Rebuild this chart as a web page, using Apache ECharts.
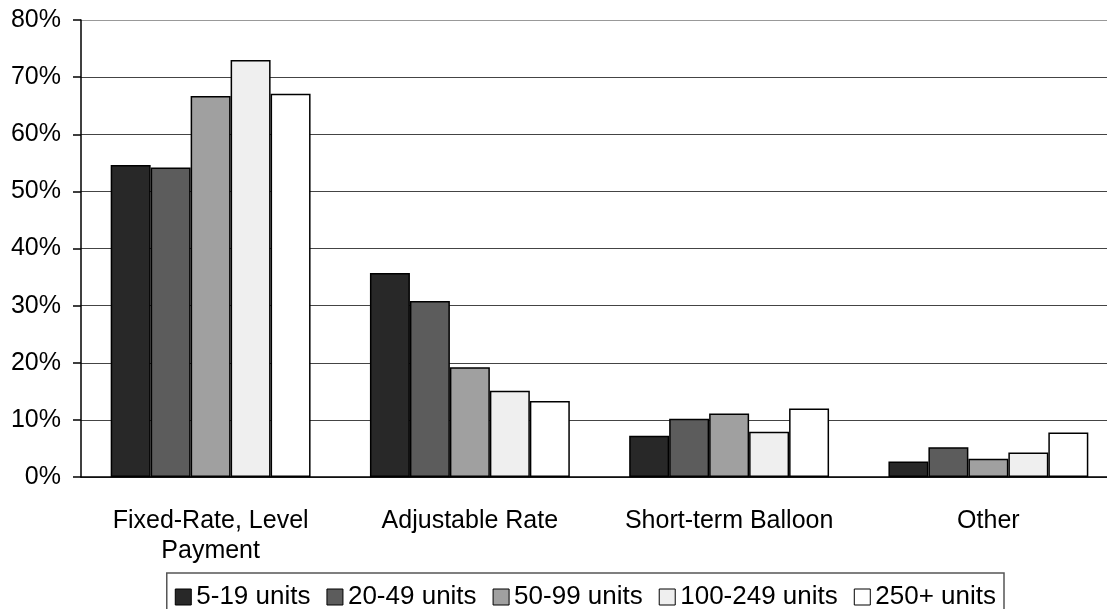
<!DOCTYPE html>
<html>
<head>
<meta charset="utf-8">
<script src="https://cdn.jsdelivr.net/npm/echarts@6/dist/echarts.min.js"></script>
<style>
html,body{margin:0;padding:0;background:#fff;}
#chart{width:1107px;height:609px;}
</style>
</head>
<body>
<div id="chart"></div>
<script>
const categories = ['Fixed-Rate, Level\nPayment', 'Adjustable Rate', 'Short-term Balloon', 'Other'];
const seriesNames = ['5-19 units', '20-49 units', '50-99 units', '100-249 units', '250+ units'];
const units5to19 = [54.6, 35.7, 7.2, 2.7];
const units20to49 = [54.2, 30.8, 10.2, 5.2];
const units50to99 = [66.7, 19.2, 11.1, 3.2];
const units100to249 = [73.0, 15.1, 7.9, 4.3];
const units250plus = [67.1, 13.3, 12.0, 7.8];
const yTicks = [0, 10, 20, 30, 40, 50, 60, 70, 80];

const seriesData = [units5to19, units20to49, units50to99, units100to249, units250plus];
const colors = ['#282828', '#5c5c5c', '#a0a0a0', '#efefef', '#ffffff'];
const font = "'Liberation Sans', Arial, Helvetica, sans-serif";

const chart = echarts.init(document.getElementById('chart'), null, {renderer: 'canvas'});
chart.setOption({
  animation: false,
  backgroundColor: '#fff',
  textStyle: {fontFamily: font, color: '#000'},
  grid: {left: 81, top: 20, height: 457, width: 1037, containLabel: false, outerBoundsMode: 'none'},
  legend: {
    data: seriesNames,
    right: 103, top: 573,
    orient: 'horizontal',
    icon: 'rect',
    itemWidth: 16, itemHeight: 16, itemGap: 16,
    padding: [9, 8, 12, 8],
    borderColor: '#555', borderWidth: 1.5,
    textStyle: {fontFamily: font, fontSize: 26, lineHeight: 30, color: '#000'},
    itemStyle: {borderColor: '#000', borderWidth: 1}
  },
  xAxis: {
    type: 'category',
    data: categories,
    axisLine: {show: true, lineStyle: {color: '#000', width: 1.5}},
    axisTick: {show: false},
    axisLabel: {fontFamily: font, fontSize: 25, color: '#000', lineHeight: 30, margin: 29, interval: 0}
  },
  yAxis: {
    type: 'value',
    min: yTicks[0], max: yTicks[yTicks.length - 1], interval: 10,
    axisLine: {show: true, lineStyle: {color: '#000', width: 1.5}},
    axisTick: {show: true, inside: false, length: 8, lineStyle: {color: '#000', width: 1.5}},
    axisLabel: {fontFamily: font, fontSize: 25, color: '#000', margin: 20, formatter: '{value}%'},
    splitLine: {show: true, lineStyle: {color: ['#444', '#444', '#444', '#444', '#444', '#444', '#444', '#444', '#999'], width: 1.2}}
  },
  series: seriesNames.map((name, i) => ({
    name: name,
    type: 'bar',
    data: seriesData[i],
    barGap: '0%',
    barCategoryGap: '22.9%',
    itemStyle: {color: colors[i], borderColor: '#000', borderWidth: 1.5}
  }))
});
</script>
</body>
</html>
